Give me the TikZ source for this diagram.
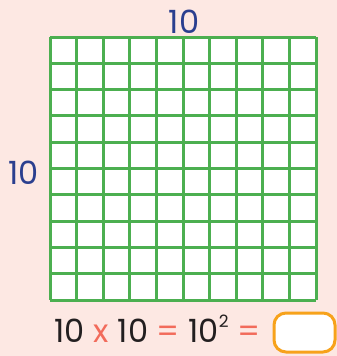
\documentclass[tikz,border=0pt]{standalone}
\usepackage{fontspec}
\setmainfont{Poppins}
\usetikzlibrary{positioning}

\definecolor{bgpink}{HTML}{FDE8E3}
\definecolor{gridgreen}{HTML}{4CAF50}
\definecolor{labelblue}{HTML}{2B3F8F}
\definecolor{opred}{HTML}{F26B5B}
\definecolor{boxorange}{HTML}{F7A21B}
\definecolor{textdark}{HTML}{231F20}

\tikzset{
    gridline/.style={gridgreen, line width=3pt},
    sidelabel/.style={labelblue, font=\fontsize{32}{32}\selectfont, inner sep=0pt},
    eqtext/.style={textdark, font=\fontsize{32}{32}\selectfont, inner sep=0pt}
}

\begin{document}
\begin{tikzpicture}[x=1pt, y=-1pt]

% ---- Background ----
            \fill[bgpink] (0,0) rectangle (337,356);
            \useasboundingbox (0,0) rectangle (337,356);

% ---- White square ----
            \fill[white] (50,37) rectangle (316,300);

% ---- Grid lines (10 x 10 cells) ----
            \foreach \i in {0,...,10} {
                \draw[gridline] (50+26.6*\i,37) -- (50+26.6*\i,300);
                \draw[gridline] (50,37+26.3*\i) -- (316,37+26.3*\i);
            }

% ---- Side labels ----
            \node[sidelabel, anchor=base] (toplabel) at (184,33) {10};
            \node[sidelabel, anchor=base east] (leftlabel) at (39,184) {10};

% ---- Equation ----
            \node[eqtext, anchor=base west] (equation) at (54,342)
                {10\hspace{9pt}\textcolor{opred}{x}\hspace{9pt}10 \textcolor{opred}{=} 10\raisebox{0.45em}{\fontsize{17}{17}\selectfont 2} \textcolor{opred}{=}};

% ---- Answer box ----
            \draw[boxorange, line width=3pt, fill=white, rounded corners=12pt]
                (274,313) rectangle (335,352);

\end{tikzpicture}
\end{document}
